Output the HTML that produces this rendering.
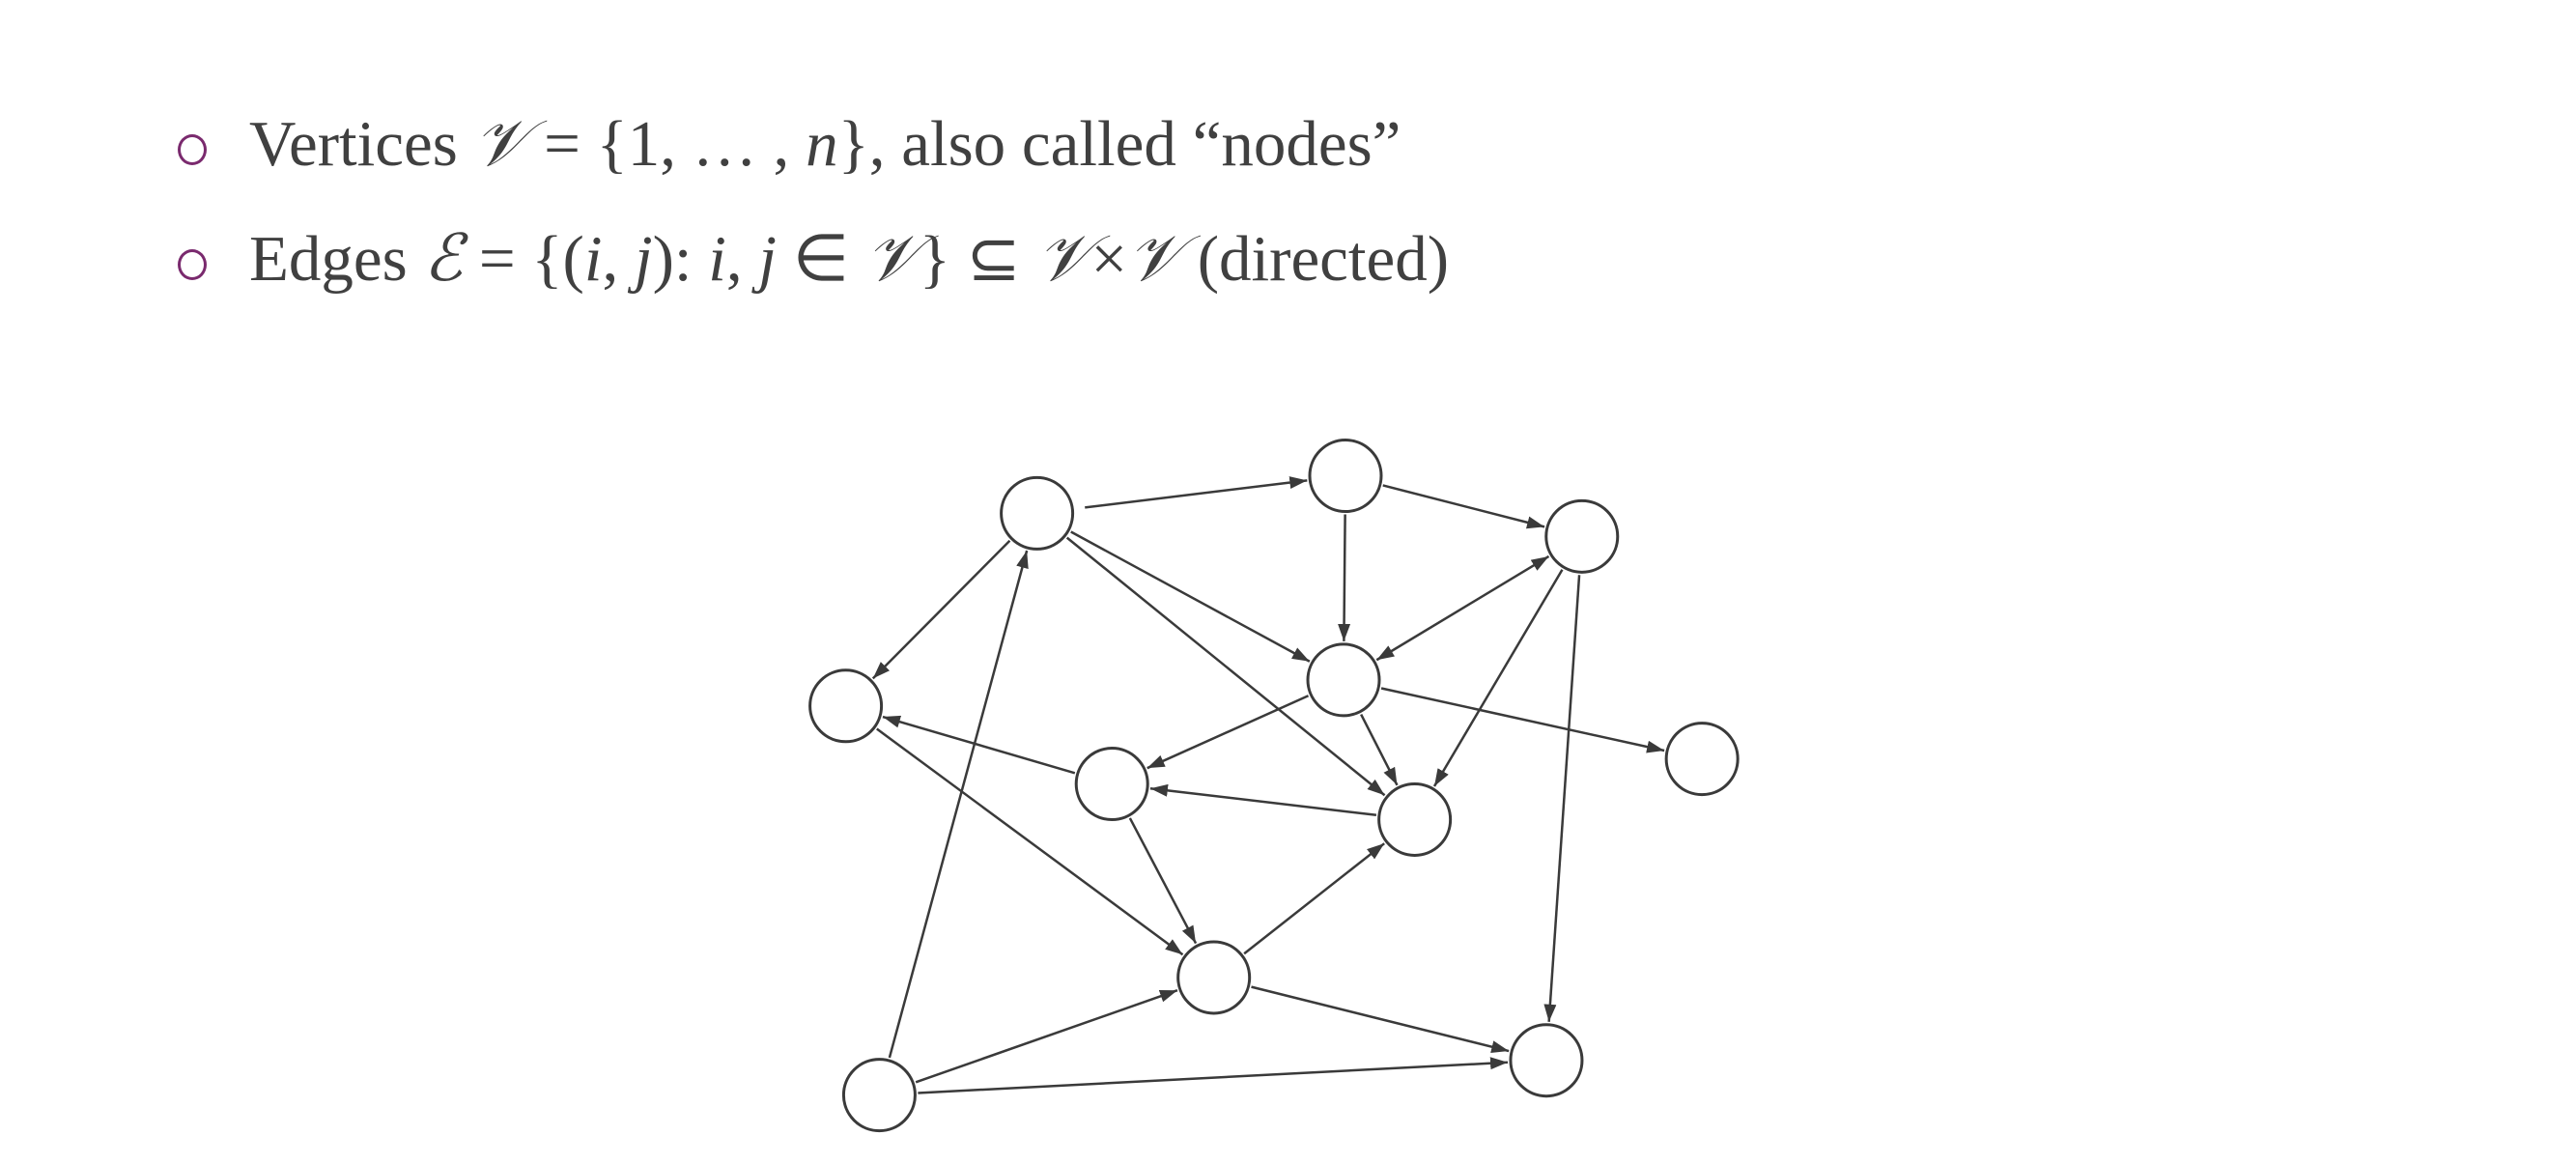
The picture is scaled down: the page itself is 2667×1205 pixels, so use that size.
<!DOCTYPE html>
<html><head><meta charset="utf-8"><style>
html,body{margin:0;padding:0;background:#fff;}
body{width:2667px;height:1205px;position:relative;overflow:hidden;font-family:"Liberation Serif",serif;color:#404040;}
.l{position:absolute;left:258px;font-size:67px;white-space:nowrap;line-height:1;}
.b{position:absolute;left:184px;width:24px;height:26px;border:3px solid #7a2a6e;border-radius:50%;}
i{font-style:italic;}
svg{position:absolute;left:0;top:0;}
</style></head><body>
<div class="b" style="top:139px"></div>
<div class="l" style="top:116px">Vertices <i>𝒱</i> = {1, … , <i>n</i>}, also called “nodes”</div>
<div class="b" style="top:258px"></div>
<div class="l" style="top:235px">Edges <i>ℰ</i> = {(<i>i</i>, <i>j</i>): <i>i</i>, <i>j</i> ∈ <i>𝒱</i>} ⊆ <i>𝒱</i>×<i>𝒱</i> (directed)</div>
<svg id="g" width="2667" height="1205" viewBox="0 0 2667 1205">
<defs><marker id="m" markerWidth="18" markerHeight="13" refX="18" refY="6.5" orient="auto" markerUnits="userSpaceOnUse" viewBox="0 0 18 13"><path d="M0,0 L18,6.5 L0,13 z" fill="#3a3a3a"/></marker>
<marker id="ms" markerWidth="18" markerHeight="13" refX="0" refY="6.5" orient="auto" markerUnits="userSpaceOnUse" viewBox="0 0 18 13"><path d="M18,0 L0,6.5 L18,13 z" fill="#3a3a3a"/></marker></defs>
</svg>
<script>
var N={A:[1079,533],B:[1400,494],C:[1646,557],D:[880,733],E:[1398,706],F:[1771,788],G:[1157,814],H:[1472,851],I:[1263,1015],J:[1609,1101],K:[915,1137]};
for(var q in N){N[q]=[N[q][0]*0.995,N[q][1]*0.997];}
var r=37;
var E=[["A","B"],["B","C"],["B","E"],["A","E"],["A","H"],["A","D"],["C","E",1],["C","H"],["C","J"],["E","G"],["E","H"],["E","F"],["H","G"],["G","D"],["G","I"],["D","I"],["I","H"],["I","J"],["K","A"],["K","I"],["K","J"]];
var s=document.getElementById("g"),h="";
E.forEach(function(e){var a=N[e[0]],b=N[e[1]],dx=b[0]-a[0],dy=b[1]-a[1],L=Math.hypot(dx,dy),ux=dx/L,uy=dy/L;
var g0=(e[0]=="A"&&e[1]=="B")?50:r+3;
h+='<line x1="'+(a[0]+ux*g0)+'" y1="'+(a[1]+uy*g0)+'" x2="'+(b[0]-ux*(r+3))+'" y2="'+(b[1]-uy*(r+3))+'" stroke="#3a3a3a" stroke-width="2.5" marker-end="url(#m)"'+(e[2]?' marker-start="url(#ms)"':'')+'/>';});
for(var k in N){h+='<circle cx="'+N[k][0]+'" cy="'+N[k][1]+'" r="'+r+'" fill="#fff" stroke="#3a3a3a" stroke-width="3"/>';}
s.insertAdjacentHTML("beforeend",h);
</script>
</body></html>
